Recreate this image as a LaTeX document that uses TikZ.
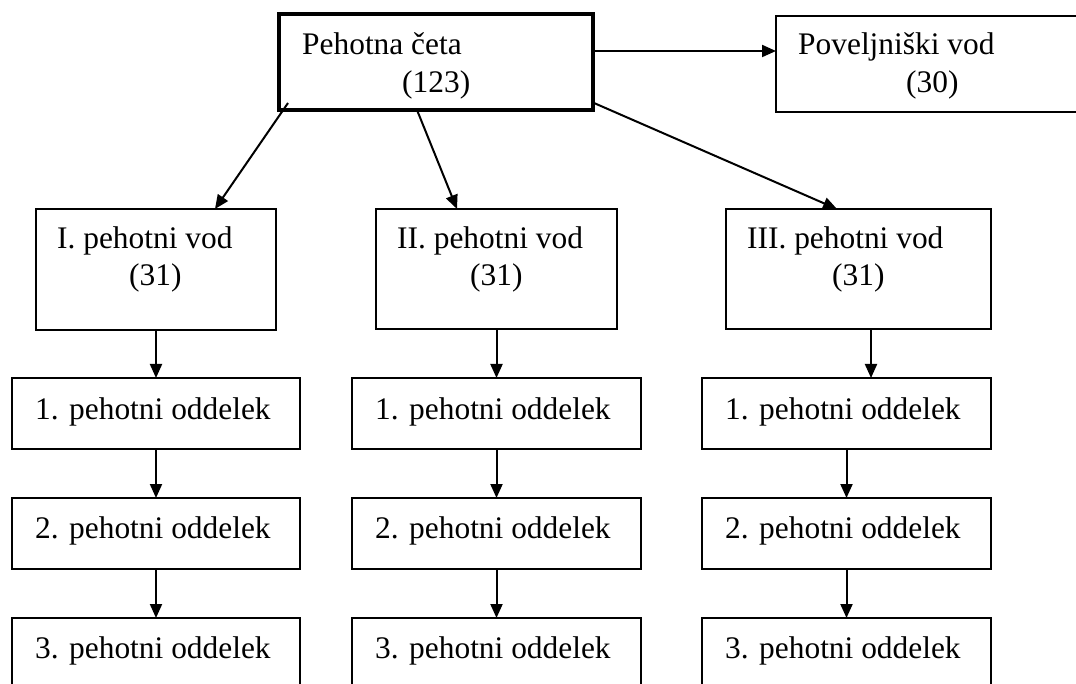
\documentclass[tikz,border=0pt]{standalone}
\usepackage{fontspec}
\setmainfont{Liberation Serif}
\usetikzlibrary{arrows.meta,calc}
\begin{document}
\begin{tikzpicture}[x=1pt,y=-1pt,
  box/.style={draw,line width=2pt,inner sep=0pt,outer sep=0pt,anchor=north west,minimum height=71pt,minimum width=289pt},
  lbl/.style={anchor=base west,inner sep=0pt,font=\fontsize{31.4}{36}\selectfont},
  arr/.style={line width=2pt,-{Triangle[length=14pt,width=12pt]}}]
\useasboundingbox (0,0) rectangle (1076,684);
\fill[white] (0,0) rectangle (1076,684);
\clip (0,0) rectangle (1076,684);
% top level
\node[box,line width=3.5pt,minimum width=314pt,minimum height=96pt] (top) at (279,14) {};
\node[box,minimum width=340pt,minimum height=96pt] (pv) at (776,16) {};
\node[lbl] (ttop1) at (302,55) {Pehotna četa};
\node[lbl] (ttop2) at (402,93) {(123)};
\node[lbl] (tpv1) at (798,55) {Poveljniški vod};
\node[lbl] (tpv2) at (906,93) {(30)};
% platoons
\node[box,minimum width=240pt,minimum height=121pt] (p1) at (36,209) {};
\node[box,minimum width=241pt,minimum height=120pt] (p2) at (376,209) {};
\node[box,minimum width=265pt,minimum height=120pt] (p3) at (726,209) {};
\node[lbl] (tp1a) at (57,249) {I. pehotni vod};
\node[lbl] (tp1b) at (129,286) {(31)};
\node[lbl] (tp2a) at (397,249) {II. pehotni vod};
\node[lbl] (tp2b) at (470,286) {(31)};
\node[lbl] (tp3a) at (747,249) {III. pehotni vod};
\node[lbl] (tp3b) at (832,286) {(31)};
% sections
\node[box,minimum width=288pt] (s11) at (12,378) {};
\node[box,minimum width=288pt] (s12) at (12,498) {};
\node[box,minimum width=288pt] (s13) at (12,618) {};
\node[box] (s21) at (352,378) {};
\node[box] (s22) at (352,498) {};
\node[box] (s23) at (352,618) {};
\node[box] (s31) at (702,378) {};
\node[box] (s32) at (702,498) {};
\node[box] (s33) at (702,618) {};
\node[lbl] (ts11) at (35,419) {1. pehotni oddelek};
\node[lbl] (ts12) at (35,538) {2. pehotni oddelek};
\node[lbl] (ts13) at (35,658) {3. pehotni oddelek};
\node[lbl] (ts21) at (375,419) {1. pehotni oddelek};
\node[lbl] (ts22) at (375,538) {2. pehotni oddelek};
\node[lbl] (ts23) at (375,658) {3. pehotni oddelek};
\node[lbl] (ts31) at (725,419) {1. pehotni oddelek};
\node[lbl] (ts32) at (725,538) {2. pehotni oddelek};
\node[lbl] (ts33) at (725,658) {3. pehotni oddelek};
% connectors
\draw[arr] ($(top.north east)+(0,37)$) -- ($(pv.north west)+(0,35)$);
\draw[arr] ($(top.south west)+(9,-7)$) -- ($(p1.north west)+(179,0)$);
\draw[arr] ($(top.south west)+(138,0)$) -- ($(p2.north west)+(81,0)$);
\draw[arr] ($(top.south east)+(1,-7)$) -- ($(p3.north west)+(111,0)$);
\draw[arr] (p1.south) -- (s11.north);
\draw[arr] (s11.south) -- (s12.north);
\draw[arr] (s12.south) -- (s13.north);
\draw[arr] (p2.south) -- (s21.north);
\draw[arr] (s21.south) -- (s22.north);
\draw[arr] (s22.south) -- (s23.north);
\draw[arr] ($(p3.south west)+(145,0)$) -- ($(s31.north west)+(169,0)$);
\draw[arr] (s31.south) -- (s32.north);
\draw[arr] (s32.south) -- (s33.north);
\end{tikzpicture}
\end{document}
